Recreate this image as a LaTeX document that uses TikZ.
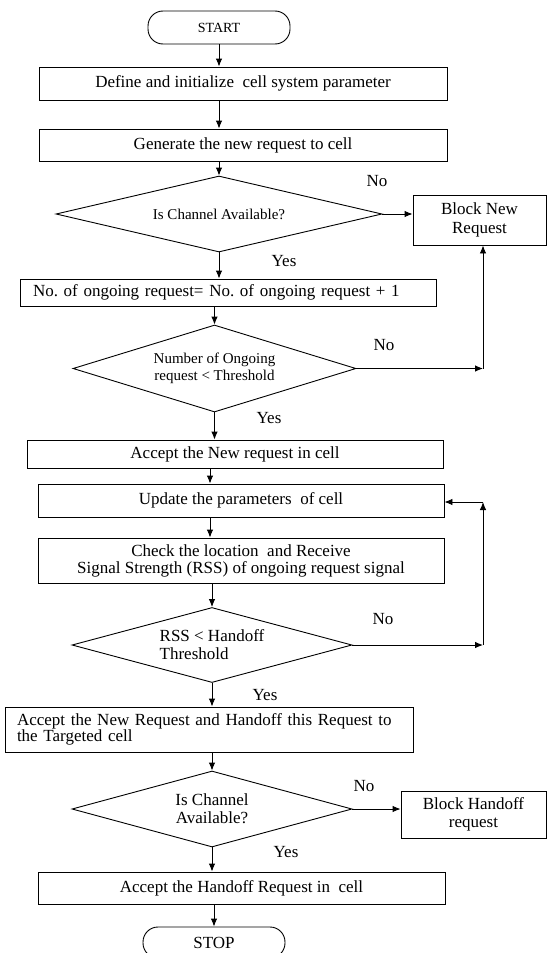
\documentclass[tikz,border=0pt]{standalone}
\usepackage{fontspec}
\setmainfont{Liberation Serif}
\usetikzlibrary{shapes.geometric,arrows.meta}
\frenchspacing

\begin{document}
\begin{tikzpicture}
[x=1pt,y=-1pt,line width=0.9pt,>={Latex[length=8pt,width=6.5pt]},%
  every node/.style={font=\fontsize{17}{18}\selectfont,inner sep=0pt},%
  procbox/.style={draw,rectangle,align=center},%
  termbox/.style={draw,rectangle,rounded corners=15pt,minimum width=142pt},%
  decbox/.style={draw,diamond,align=center,shape aspect=3.7}]
\useasboundingbox (0,0) rectangle (547,953);
%% main column
\node[termbox,minimum height=33pt,font=\fontsize{14}{14}\selectfont] (start) at (219,27.5) {START};
\node[procbox,minimum width=408pt,minimum height=33pt] (init) at (243,83.5) {Define and initialize\ \ cell system parameter};
\node[procbox,minimum width=408pt,minimum height=32pt] (gen) at (243,145) {Generate the new request to cell};
\node[decbox,shape aspect=4.3,minimum width=326pt,minimum height=76pt,font=\fontsize{15}{16}\selectfont] (chk1) at (219,214) {Is Channel Available?};
\node[procbox,minimum width=416pt,minimum height=27pt,text width=390pt,align=left] (incr) at (228,292.5) {No. of ongoing request= No. of ongoing request + 1};
\node[decbox,shape aspect=3.25,minimum width=283pt,minimum height=87pt,font=\fontsize{15}{17}\selectfont] (thr) at (214.5,368.5) {Number of Ongoing\\request < Threshold};
\node[procbox,minimum width=416pt,minimum height=28pt] (accnew) at (235,454) {Accept the New request in cell};
\node[procbox,minimum width=406pt,minimum height=33pt] (upd) at (241,500.5) {Update the parameters\ \ of cell};
\node[procbox,minimum width=406pt,minimum height=45pt,font=\fontsize{17}{17}\selectfont] (rss) at (241,560.5) {Check the location\ \ and Receive\\Signal Strength (RSS) of ongoing request signal};
\node[decbox,minimum width=280pt,minimum height=75pt,align=left] (hoth) at (212,645) {RSS < Handoff\\Threshold};
\node[procbox,minimum width=408pt,minimum height=45pt,text width=384pt,align=left,font=\fontsize{17}{16.5}\selectfont] (acchand) at (209,729.5) {Accept the New Request and Handoff this Request to\\the Targeted cell};
\node[decbox,minimum width=280pt,minimum height=76pt] (chk3) at (212,809) {Is Channel\\Available?};
\node[procbox,minimum width=407pt,minimum height=32pt] (acchoff) at (241.5,888) {Accept the Handoff Request in\ \ cell};
\node[termbox,minimum height=31pt] (stop) at (214,942.5) {STOP};
%% side boxes
\node[procbox,minimum width=133pt,minimum height=50pt,font=\fontsize{17}{19}\selectfont] (blknew) at (479.5,220) {Block New\\Request};
\node[procbox,minimum width=145pt,minimum height=47pt] (blkhand) at (473.5,814.5) {Block Handoff\\request};
%% labels
\node (no1) at (377,181) {No};
\node (yes1) at (284,261) {Yes};
\node (no2) at (384,345) {No};
\node (yes2) at (269,418) {Yes};
\node (no3) at (383,619) {No};
\node (yes3) at (265,695) {Yes};
\node (no4) at (364,786) {No};
\node (yes4) at (286,852) {Yes};
%% helper points
\coordinate (colB) at (210,0);
\coordinate (jn1) at (483,368.5);
\coordinate (jn2) at (483,645);
\coordinate (jn3) at (483,502);
%% connectors
\foreach \upper/\lower/\axis in {init/gen/start, accnew/upd/colB, upd/rss/colB, acchoff/stop/stop}
{
  \draw[->] (\upper.south -| \axis) -- (\lower.north -| \axis);
}
\draw[->] (start) -- (start |- init.north);
\draw[->] (gen.south -| chk1) -- (chk1.north);
\draw[->] (chk1) -- (chk1 |- incr.north);
\draw[->] (chk1.east) -- (chk1.east -| blknew.west);
\draw[->] (incr.south -| thr) -- (thr.north);
\draw[->] (thr) -- (thr |- accnew.north);
\draw[->] (thr.east) -- (jn1);
\draw[->] (jn1) -- (jn1 |- blknew.south);
\draw[->] (rss.south -| hoth) -- (hoth.north);
\draw[->] (hoth) -- (hoth |- acchand.north);
\draw[->] (hoth.east) -- (jn2);
\draw[->] (jn2) -- (jn3);
\draw[->] (jn3) -- (jn3 -| upd.east);
\draw[->] (acchand.south -| chk3) -- (chk3.north);
\draw[->] (chk3) -- (chk3 |- acchoff.north);
\draw[->] (chk3.east) -- (chk3.east -| blkhand.west);
\end{tikzpicture}
\end{document}
